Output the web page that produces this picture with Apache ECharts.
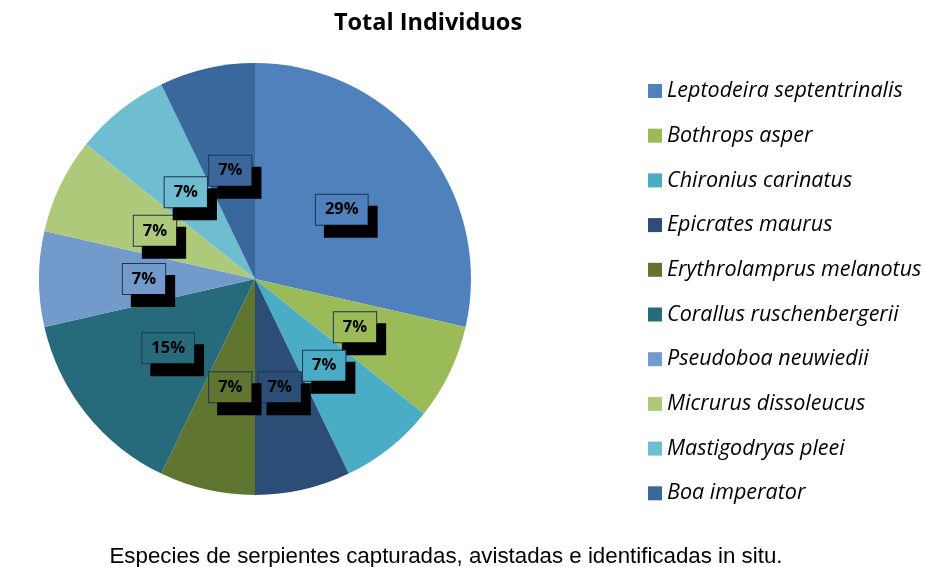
<!DOCTYPE html>
<html>
<head>
<meta charset="utf-8">
<script src="https://cdn.jsdelivr.net/npm/echarts@6/dist/echarts.min.js"></script>
<style>
  html, body { margin: 0; padding: 0; background: #fff; }
  #chart { width: 925px; height: 567px; }
</style>
</head>
<body>
<div id="chart"></div>
<script>
const species = [
  "Leptodeira septentrinalis",
  "Bothrops asper",
  "Chironius carinatus",
  "Epicrates maurus",
  "Erythrolamprus melanotus",
  "Corallus ruschenbergerii",
  "Pseudoboa neuwiedii",
  "Micrurus dissoleucus",
  "Mastigodryas pleei",
  "Boa imperator",
];
const individuals = [4, 1, 1, 1, 1, 2, 1, 1, 1, 1];
const percentLabels = ["29%", "7%", "7%", "7%", "7%", "15%", "7%", "7%", "7%", "7%"];
const colors = [
  "#4f81bd", "#9bbb59", "#4bacc6", "#2c4d75", "#5f7530",
  "#276a7c", "#729aca", "#afc97a", "#6fbdd1", "#3a679c",
];

const chart = echarts.init(document.getElementById("chart"));

chart.setOption({
  animation: false,
  title: [
    {
      text: "Total Individuos",
      left: 423,
      top: 6,
      textAlign: "center",
      textStyle: { fontFamily: "Open Sans", fontWeight: "bold", fontSize: 23.5, color: "#000" },
    },
    {
      text: "Especies de serpientes capturadas, avistadas e identificadas in situ.",
      left: 441,
      top: 541,
      textAlign: "center",
      textStyle: { fontFamily: "Liberation Sans", fontWeight: "normal", fontSize: 22.3, color: "#000" },
    },
  ],
  legend: {
    orient: "vertical",
    left: 648,
    top: 80,
    padding: 0,
    itemWidth: 14,
    itemHeight: 14,
    itemGap: 22.7,
    icon: "rect",
    textStyle: { fontFamily: "Open Sans", fontStyle: "italic", fontSize: 21.5, color: "#000" },
    data: species,
  },
  series: [
    {
      type: "pie",
      center: [255, 279],
      radius: 216,
      startAngle: 90,
      clockwise: true,
      itemStyle: { borderWidth: 0 },
      label: {
        position: "inside",
        formatter: (p) => percentLabels[p.dataIndex],
        fontFamily: "Open Sans",
        fontWeight: "bold",
        fontSize: 16.5,
        color: "#000",
        padding: [7, 9, 6, 9],
        borderColor: "#1f3550",
        borderWidth: 1,
        shadowColor: "#000",
        shadowBlur: 0,
        shadowOffsetX: 9,
        shadowOffsetY: 12,
      },
      labelLine: { show: false },
      data: species.map((name, i) => ({
        name,
        value: individuals[i],
        itemStyle: { color: colors[i] },
        label: { backgroundColor: colors[i] },
      })),
    },
  ],
});
</script>
</body>
</html>
